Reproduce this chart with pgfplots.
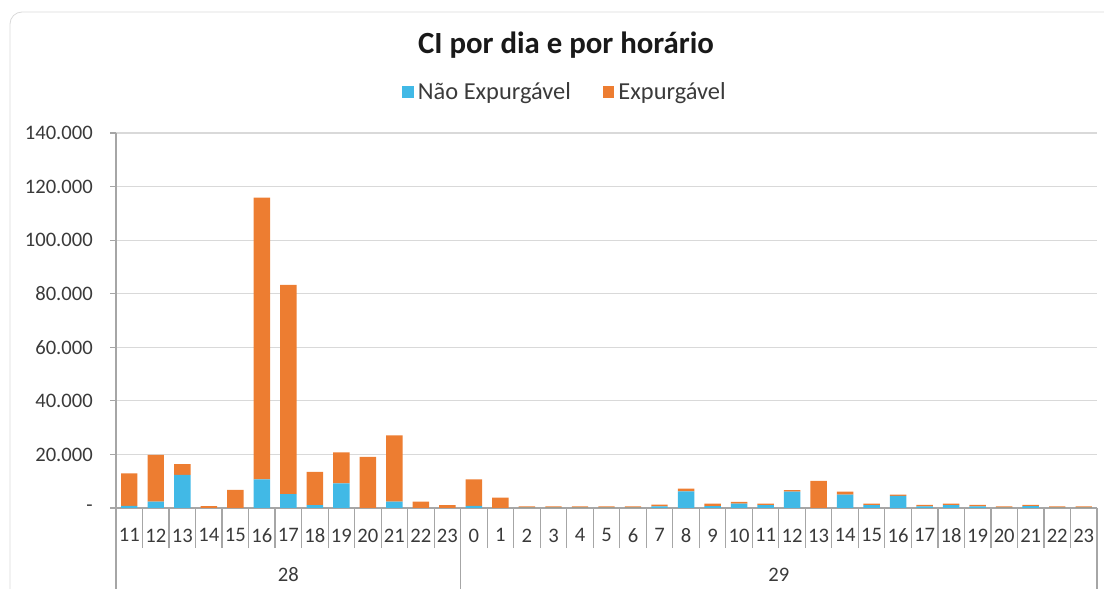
\documentclass[border=0pt]{standalone}
\usepackage{pgfplots}
\pgfplotsset{compat=1.18}
\usepackage{fontspec}
\setmainfont{Carlito}
\definecolor{cblue}{HTML}{41B9E6}
\definecolor{corange}{HTML}{ED7D31}
\definecolor{axgray}{HTML}{A6A6A6}
\definecolor{grdgray}{HTML}{D9D9D9}
\definecolor{lblgray}{HTML}{3A3A3A}
\begin{document}
\begin{tikzpicture}
\useasboundingbox (0,0) rectangle (552pt,294.5pt);
\draw[color=grdgray, rounded corners=6pt] (5pt,-20pt) rectangle (600pt,288.5pt);
\node[font=\bfseries\fontsize{15.4}{18}\selectfont, text=black!90] at (283pt,272pt) {CI por dia e por horário};
\begin{axis}[
  at={(58pt,40.5pt)}, anchor=south west,
  width=490.5pt, height=187.5pt, scale only axis,
  xmin=-0.5, xmax=36.5, ymin=0, ymax=140000,
  scaled y ticks=false,
  ybar stacked, bar width=0.62,
  axis x line=bottom, axis y line=left,
  axis line style={-, draw=axgray, line width=0.6pt},
  xtick={0,...,36},
  xticklabels={11,12,13,14,15,16,17,18,19,20,21,22,23,0,1,2,3,4,5,6,7,8,9,10,11,12,13,14,15,16,17,18,19,20,21,22,23},
  minor xtick={-0.5,0.5,...,36.5},
  major x tick style={draw=none},
  minor x tick style={draw=axgray, line width=0.6pt},
  minor tick length=20pt,
  major tick length=2.8pt,
  tick align=outside,
  ytick={0,20000,40000,60000,80000,100000,120000,140000},
  yticklabels={-,20.000,40.000,60.000,80.000,100.000,120.000,140.000},
  ytick style={draw=axgray, line width=0.6pt},
  ymajorgrids, major grid style={draw=grdgray, line width=0.6pt},
  ticklabel style={font=\fontsize{10.3}{12}\selectfont, text=lblgray},
  xticklabel style={yshift=-4pt, inner xsep=0pt},
  yticklabel style={xshift=-5.3pt},
  legend style={at={(0.4587,1.109)}, anchor=center, draw=none, fill=none,
    legend columns=2, font=\fontsize{12.2}{14}\selectfont, text=lblgray,
    /tikz/every even column/.append style={column sep=14pt}},
  legend image code/.code={\fill[#1] (0pt,-2.9pt) rectangle (5.8pt,2.9pt);},
  clip=false,
]
\addplot[fill=cblue, draw=none] coordinates {
(0,750) (1,2350) (2,12400) (3,0) (4,0) (5,10700) (6,5200) (7,1100) (8,9200) (9,0) (10,2350) (11,0) (12,0)
(13,800) (14,0) (15,100) (16,100) (17,100) (18,100) (19,100) (20,600) (21,6200) (22,700) (23,1650) (24,1100)
(25,6100) (26,0) (27,5000) (28,1100) (29,4500) (30,600) (31,1100) (32,600) (33,100) (34,700) (35,100) (36,100)};
\addlegendentry{Não Expurgável}
\addplot[fill=corange, draw=none] coordinates {
(0,12200) (1,17450) (2,4000) (3,700) (4,6800) (5,105200) (6,78100) (7,12400) (8,11600) (9,19100) (10,24750) (11,2350) (12,1100)
(13,9900) (14,3900) (15,550) (16,550) (17,550) (18,550) (19,550) (20,650) (21,1000) (22,950) (23,600) (24,550)
(25,600) (26,10100) (27,1100) (28,500) (29,500) (30,600) (31,500) (32,600) (33,550) (34,500) (35,550) (36,550)};
\addlegendentry{Expurgável}
\draw[axgray, line width=0.6pt] (axis cs:-0.5,0) -- ++(0pt,-40.5pt);
\draw[axgray, line width=0.6pt] (axis cs:12.5,0) -- ++(0pt,-40.5pt);
\draw[axgray, line width=0.6pt] (axis cs:36.5,0) -- ++(0pt,-40.5pt);
\node[font=\fontsize{10.3}{12}\selectfont, text=lblgray] at (axis cs:6,0) [yshift=-33.5pt] {28};
\node[font=\fontsize{10.3}{12}\selectfont, text=lblgray] at (axis cs:24.5,0) [yshift=-33.5pt] {29};
\end{axis}
\end{tikzpicture}
\end{document}
